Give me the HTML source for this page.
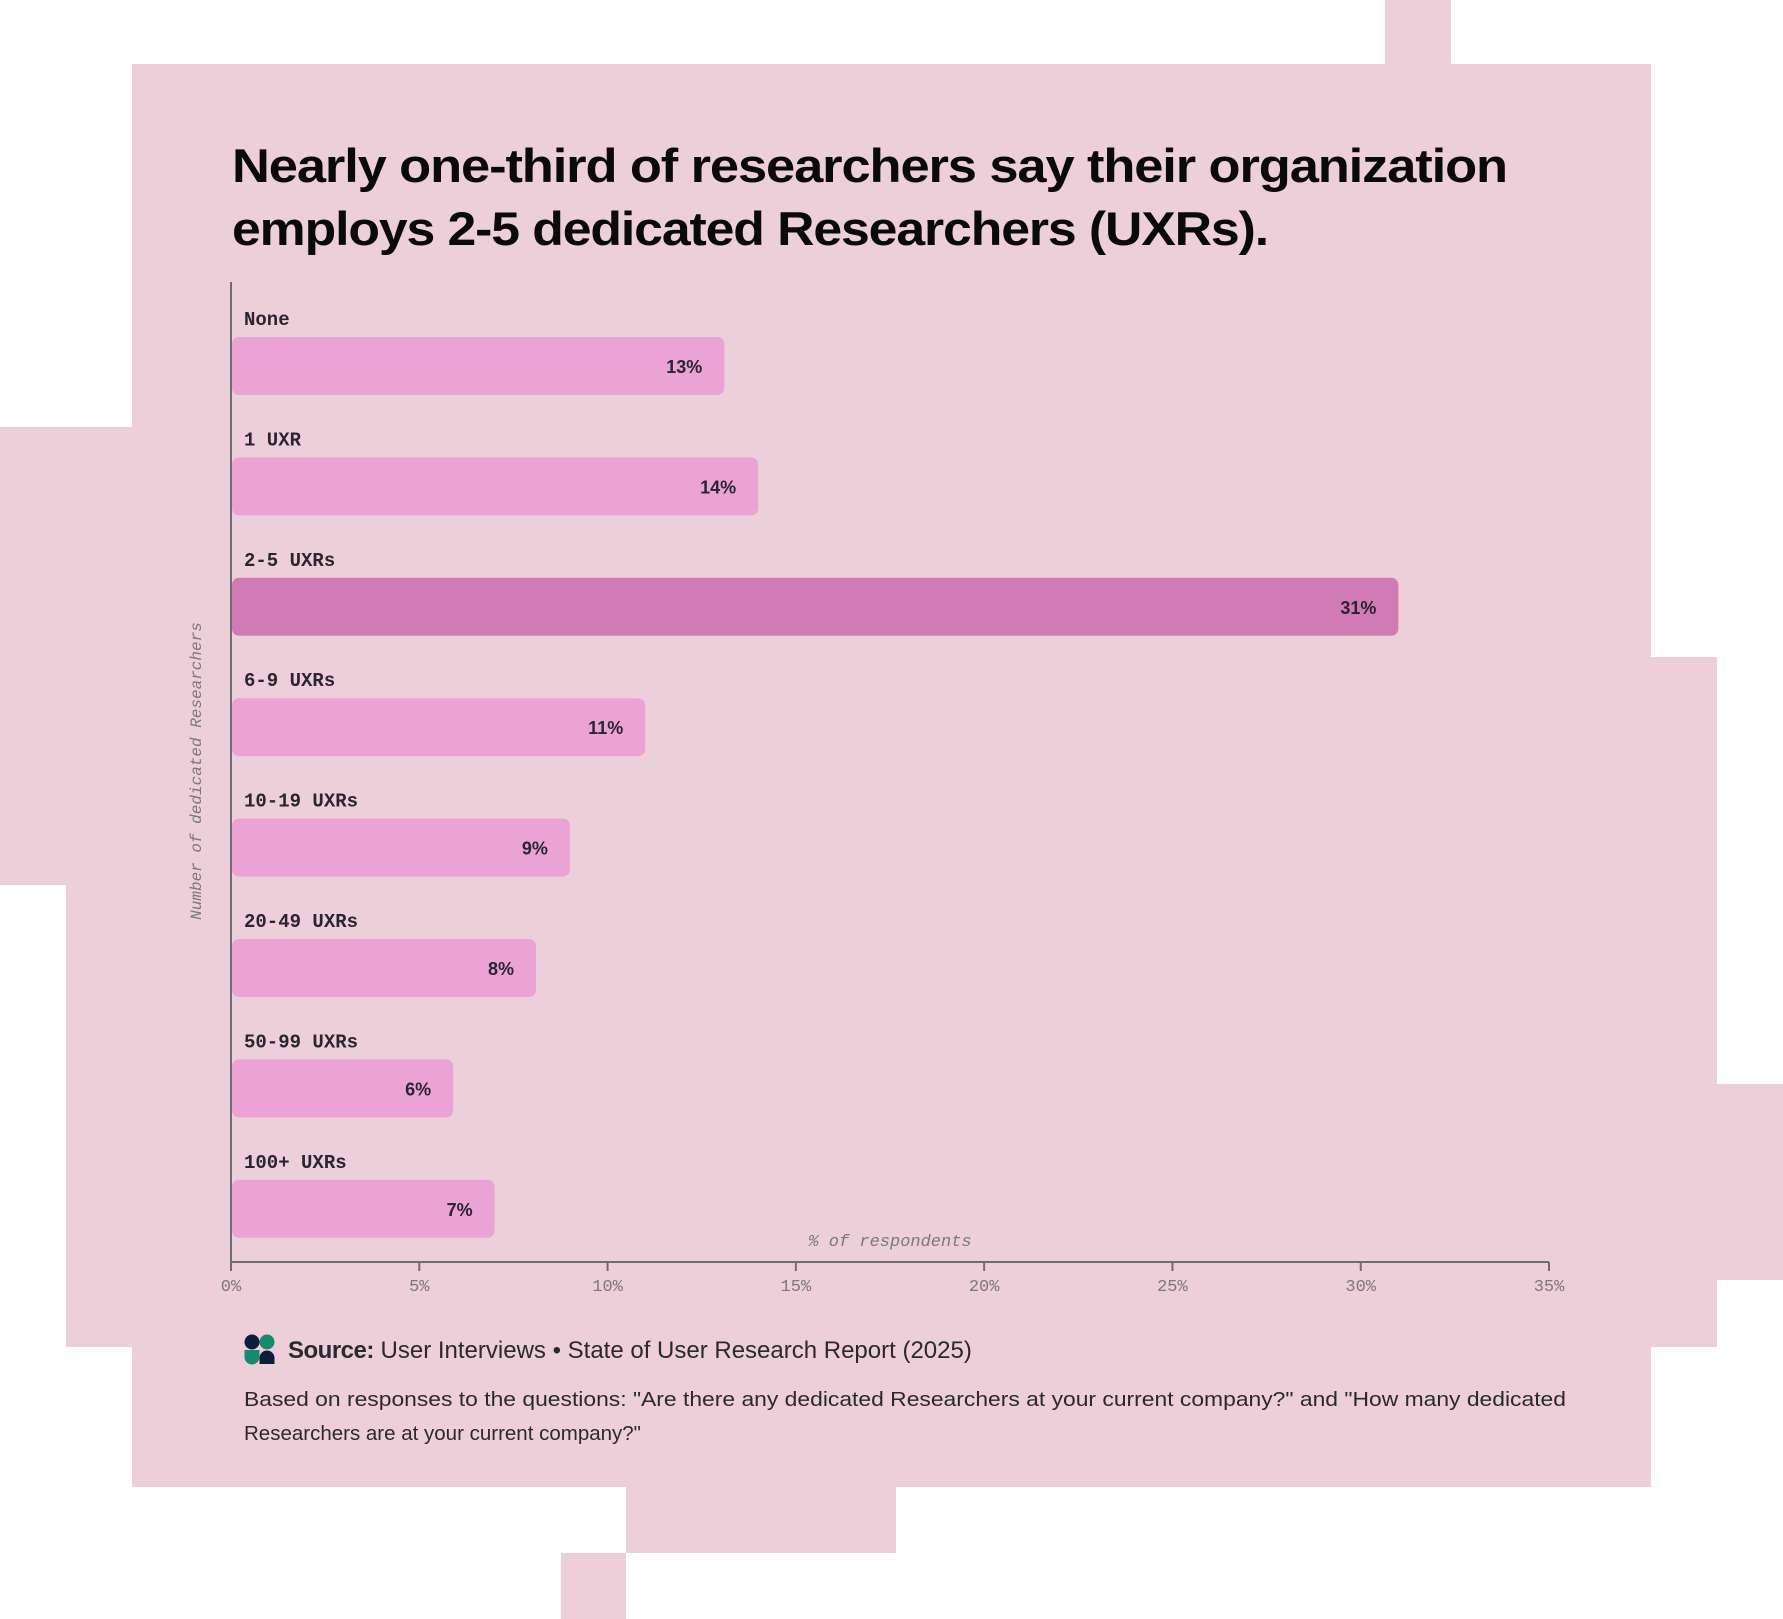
<!DOCTYPE html>
<html><head><meta charset="utf-8"><style>
html,body{margin:0;padding:0;background:#fff;}
svg{display:block;}
</style></head><body>
<svg width="1783" height="1619" viewBox="0 0 1783 1619" xmlns="http://www.w3.org/2000/svg">
<g fill="#ECCFD9">
<rect x="132" y="64" width="1519" height="1423"/>
<rect x="1385" y="0" width="66" height="64"/>
<rect x="0" y="427" width="132" height="458"/>
<rect x="66" y="885" width="66" height="462"/>
<rect x="1651" y="657" width="66" height="690"/>
<rect x="1717" y="1084" width="66" height="196"/>
<rect x="626" y="1487" width="270" height="66"/>
<rect x="561" y="1553" width="65" height="66"/>
</g>
<g font-family="'Liberation Sans', sans-serif" font-weight="bold" fill="#0a0a0a" font-size="47">
<text x="232" y="182" textLength="1275" lengthAdjust="spacingAndGlyphs" letter-spacing="-1">Nearly one-third of researchers say their organization</text>
<text x="232" y="245" textLength="1036" lengthAdjust="spacingAndGlyphs" letter-spacing="-1">employs 2-5 dedicated Researchers (UXRs).</text>
</g>
<g id="plot"></g>
<g>
<g>
<circle cx="252" cy="1342" r="7.5" fill="#0f1d3a"/>
<circle cx="267" cy="1342" r="7.5" fill="#168a6c"/>
<path d="M244.5 1350 h15 v7 a7.5 7.5 0 0 1 -15 0z" fill="#168a6c"/>
<path d="M259.5 1364 v-6 a7.5 7.5 0 0 1 15 0 v6z" fill="#0f1d3a"/>
</g>
<text x="288" y="1358" font-family="'Liberation Sans', sans-serif" font-size="24" fill="#2a2a2e"><tspan font-weight="bold" letter-spacing="-0.5">Source:</tspan> User Interviews • State of User Research Report (2025)</text>
<text x="244" y="1406" font-family="'Liberation Sans', sans-serif" font-size="20.5" fill="#2a2a2e" textLength="1322" lengthAdjust="spacingAndGlyphs">Based on responses to the questions: "Are there any dedicated Researchers at your current company?" and "How many dedicated</text>
<text x="244" y="1440" font-family="'Liberation Sans', sans-serif" font-size="20.5" fill="#2a2a2e">Researchers are at your current company?"</text>
</g>
</svg>
<script>
const categories = ["None","1 UXR","2-5 UXRs","6-9 UXRs","10-19 UXRs","20-49 UXRs","50-99 UXRs","100+ UXRs"];
const values = [13.1,14,31,11,9,8.1,5.9,7];
const valueLabels = ["13%","14%","31%","11%","9%","8%","6%","7%"];
const highlight = [false,false,true,false,false,false,false,false];
const xTicks = [0,5,10,15,20,25,30,35];
const xTickLabels = ["0%","5%","10%","15%","20%","25%","30%","35%"];

const NS="http://www.w3.org/2000/svg";
const plot=document.getElementById('plot');
const X0=231, X1=1549, XMAX=35;
const xs=v=>X0+(v/XMAX)*(X1-X0);
const BAR_TOP0=337, STEP=120.4, BAR_H=58;
const ys=i=>BAR_TOP0+i*STEP;
function mk(tag,attrs,txt){const e=document.createElementNS(NS,tag);for(const k in attrs)e.setAttribute(k,attrs[k]);if(txt!==undefined)e.textContent=txt;plot.appendChild(e);return e;}

categories.forEach((c,i)=>{
  const y=ys(i);
  const lab=mk('text',{x:244,y:y-12,'font-family':"'Liberation Mono', monospace",'font-weight':'bold','font-size':19,fill:'#2a2530'},c);
  
  
  const w=xs(values[i])-X0;
  const r=mk('rect',{x:X0+1,y:y,width:Math.max(0,w-1),height:BAR_H,rx:7,fill:highlight[i]?'#D17BB6':'#EBA3D6'});
  
  
  const v=mk('text',{x:xs(values[i])-22,y:y+36,'text-anchor':'end','font-family':"'Liberation Sans', sans-serif",'font-weight':'bold','font-size':18,fill:'#2a2530'},valueLabels[i]);
  
  
});
const ya=mk('line',{x1:X0,y1:282,x2:X0,y2:1262,stroke:'#6e6e6e','stroke-width':2});


const xa=mk('line',{x1:X0,y1:1262,x2:X1,y2:1262,stroke:'#6e6e6e','stroke-width':2});


xTicks.forEach((t,i)=>{
  const tk=mk('line',{x1:xs(t),y1:1262,x2:xs(t),y2:1271,stroke:'#6e6e6e','stroke-width':2});
  
  
  const tl=mk('text',{x:xs(t),y:1291,'text-anchor':'middle','font-family':"'Liberation Mono', monospace",'font-size':17,fill:'#7a7a7a'},xTickLabels[i]);
  
  
});
const xt=mk('text',{x:890,y:1246,'text-anchor':'middle','font-family':"'Liberation Mono', monospace",'font-style':'italic','font-size':17,fill:'#7a7a7a'},'% of respondents');


const yt=mk('text',{x:0,y:0,transform:'translate(201,771) rotate(-90)','text-anchor':'middle','font-family':"'Liberation Mono', monospace",'font-style':'italic','font-size':16,fill:'#7a7a7a'},'Number of dedicated Researchers');


</script>
</body></html>
